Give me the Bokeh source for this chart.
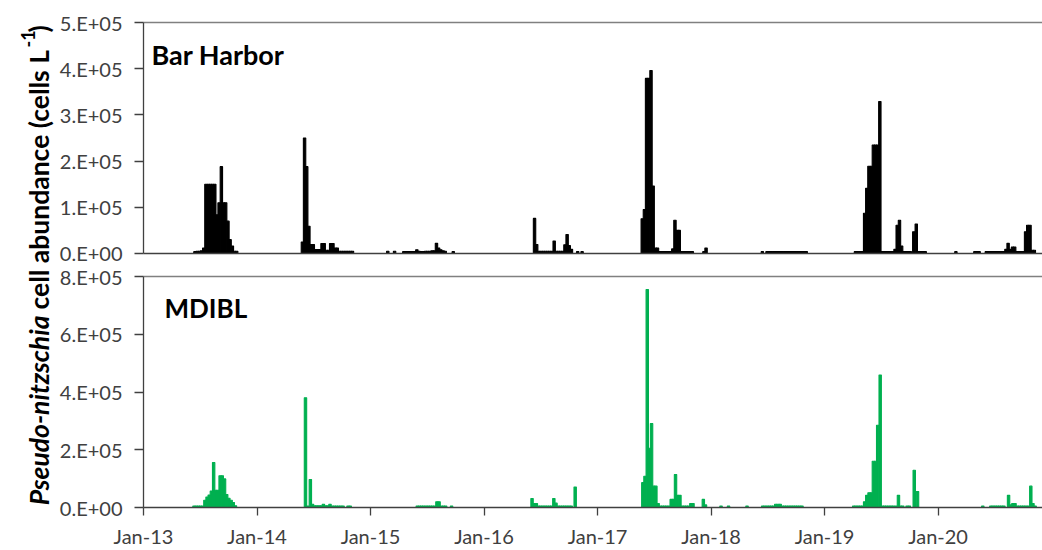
import math
from bokeh.plotting import figure
from bokeh.layouts import row, column
from bokeh.models import Range1d, FixedTicker, LinearAxis
from bokeh.core.properties import value
from bokeh.embed import file_html
from bokeh.resources import INLINE

# ---------------- data (sample time as decimal year, cells per litre) -------------
bh_time = [
    2013.453, 2013.473, 2013.492, 2013.511, 2013.531, 2013.550, 2013.570, 2013.589, 2013.608, 2013.628,
    2013.647, 2013.666, 2013.686, 2013.705, 2013.724, 2013.744, 2013.763, 2013.783, 2013.802, 2013.821,
    2014.400, 2014.419, 2014.438, 2014.457, 2014.477, 2014.496, 2014.515, 2014.534, 2014.553, 2014.573,
    2014.592, 2014.611, 2014.630, 2014.649, 2014.669, 2014.688, 2014.707, 2014.726, 2014.745, 2014.765,
    2014.784, 2014.803, 2014.822, 2014.841,
    2015.152, 2015.212, 2015.293, 2015.312, 2015.331, 2015.351, 2015.370, 2015.389, 2015.408, 2015.427,
    2015.447, 2015.466, 2015.485, 2015.504, 2015.523, 2015.543, 2015.562, 2015.581, 2015.600, 2015.619,
    2015.639, 2015.658, 2015.729,
    2016.445, 2016.464, 2016.483, 2016.503, 2016.522, 2016.541, 2016.560, 2016.579, 2016.599, 2016.618,
    2016.637, 2016.656, 2016.675, 2016.694, 2016.713, 2016.732, 2016.751, 2016.770, 2016.825, 2016.864,
    2017.394, 2017.413, 2017.432, 2017.451, 2017.471, 2017.490, 2017.509, 2017.528, 2017.547, 2017.567,
    2017.586, 2017.605, 2017.624, 2017.643, 2017.663, 2017.682, 2017.701, 2017.720, 2017.739, 2017.759,
    2017.778, 2017.797, 2017.816, 2017.835, 2017.937, 2017.956,
    2018.452, 2018.493, 2018.512, 2018.531, 2018.551, 2018.570, 2018.589, 2018.608, 2018.627, 2018.647,
    2018.666, 2018.685, 2018.704, 2018.723, 2018.743, 2018.762, 2018.781, 2018.800, 2018.819, 2018.839,
    2019.272, 2019.291, 2019.310, 2019.330, 2019.353, 2019.372, 2019.391, 2019.411, 2019.430, 2019.449,
    2019.468, 2019.487, 2019.506, 2019.526, 2019.545, 2019.564, 2019.583, 2019.602, 2019.621, 2019.640,
    2019.660, 2019.679, 2019.698, 2019.717, 2019.737, 2019.756, 2019.786, 2019.808, 2019.829, 2019.848,
    2019.868, 2019.887,
    2020.157, 2020.324, 2020.343, 2020.362, 2020.425, 2020.444, 2020.464, 2020.483, 2020.502, 2020.521,
    2020.540, 2020.560, 2020.579, 2020.598, 2020.617, 2020.637, 2020.656, 2020.675, 2020.694, 2020.713,
    2020.733, 2020.752, 2020.771, 2020.790, 2020.810, 2020.829, 2020.848,
]
bh_cells = [
    4000, 5000, 5000, 6000, 12000, 150000, 150000, 150000, 150000, 150000,
    84000, 110000, 188000, 110000, 110000, 70000, 30000, 16000, 5000, 5000,
    25000, 250000, 188000, 59000, 19500, 19500, 8700, 8700, 8700, 21700,
    21700, 7000, 7000, 21700, 21700, 12000, 12000, 5000, 5000, 5000,
    5000, 5000, 5000, 5000,
    5000, 5000, 4000, 4000, 4000, 4000, 4000, 4000, 8000, 5000,
    4000, 4000, 5000, 5000, 5000, 6000, 6000, 22000, 12000, 8000,
    6000, 5000, 4000,
    76000, 19500, 5000, 5000, 5000, 5000, 5000, 5000, 5000, 27000,
    5000, 5000, 5000, 5000, 19000, 41000, 17000, 9000, 4000, 4000,
    75000, 95000, 379000, 379000, 396000, 146000, 12000, 12000, 4000, 4000,
    4000, 4000, 4000, 4000, 10000, 72000, 50000, 50000, 4000, 4000,
    4000, 4000, 4000, 4000, 4000, 12000,
    4000, 4000, 4000, 4000, 4000, 4000, 4000, 4000, 4000, 4000,
    4000, 4000, 4000, 4000, 4000, 4000, 4000, 4000, 4000, 4000,
    4000, 4000, 4000, 4000, 87000, 141000, 189000, 189000, 235000, 235000,
    235000, 329000, 4000, 4000, 4000, 4000, 4000, 4000, 9000, 61000,
    72000, 16000, 4000, 4000, 4000, 4000, 47000, 64000, 4000, 4000,
    4000, 4000,
    4000, 4000, 4000, 4000, 4000, 4000, 4000, 4000, 4000, 4000,
    4000, 4000, 4000, 9000, 22000, 9000, 14000, 14000, 4000, 4000,
    4000, 4000, 47000, 61000, 61000, 7000, 7000,
]

md_time = [
    2013.445, 2013.464, 2013.483, 2013.502, 2013.522, 2013.541, 2013.560, 2013.579, 2013.598, 2013.618,
    2013.637, 2013.656, 2013.675, 2013.694, 2013.714, 2013.733, 2013.752, 2013.772, 2013.791, 2013.810,
    2014.427, 2014.446, 2014.470, 2014.489, 2014.508, 2014.527, 2014.547, 2014.566, 2014.585, 2014.604,
    2014.624, 2014.643, 2014.662, 2014.681, 2014.700, 2014.720, 2014.739, 2014.758, 2014.802, 2014.821,
    2015.412, 2015.431, 2015.450, 2015.469, 2015.489, 2015.508, 2015.527, 2015.546, 2015.566, 2015.585,
    2015.604, 2015.623, 2015.643, 2015.662, 2015.714,
    2016.423, 2016.442, 2016.461, 2016.481, 2016.500, 2016.519, 2016.538, 2016.557, 2016.577, 2016.596,
    2016.615, 2016.634, 2016.653, 2016.672, 2016.692, 2016.711, 2016.730, 2016.749, 2016.768, 2016.803,
    2017.399, 2017.418, 2017.438, 2017.457, 2017.476, 2017.495, 2017.514, 2017.534, 2017.553, 2017.572,
    2017.591, 2017.610, 2017.630, 2017.649, 2017.668, 2017.687, 2017.706, 2017.726, 2017.745, 2017.764,
    2017.783, 2017.802, 2017.822, 2017.841, 2017.932, 2017.951,
    2018.088, 2018.154, 2018.317, 2018.455, 2018.474, 2018.494, 2018.513, 2018.532, 2018.551, 2018.570,
    2018.590, 2018.609, 2018.628, 2018.647, 2018.666, 2018.686, 2018.705, 2018.724, 2018.743, 2018.762,
    2018.782, 2018.801,
    2019.257, 2019.276, 2019.296, 2019.315, 2019.334, 2019.353, 2019.372, 2019.392, 2019.411, 2019.430,
    2019.449, 2019.468, 2019.490, 2019.509, 2019.528, 2019.547, 2019.567, 2019.586, 2019.605, 2019.628,
    2019.651, 2019.670, 2019.689, 2019.727, 2019.747, 2019.790, 2019.819,
    2020.394, 2020.465, 2020.484, 2020.503, 2020.522, 2020.541, 2020.561, 2020.580, 2020.621, 2020.640,
    2020.659, 2020.678, 2020.698, 2020.717, 2020.736, 2020.755, 2020.774, 2020.794, 2020.817, 2020.836,
    2020.855,
]
md_cells = [
    5000, 5000, 5000, 5000, 5000, 25000, 36000, 43000, 57000, 156000,
    60000, 60000, 110000, 110000, 99000, 45000, 32000, 25000, 17000, 6000,
    380000, 5000, 97000, 11000, 6000, 6000, 6000, 6000, 11000, 6000,
    6000, 11000, 5000, 5000, 5000, 5000, 5000, 5000, 5000, 5000,
    5000, 5000, 5000, 5000, 5000, 5000, 5000, 5000, 5000, 20000,
    20000, 5000, 5000, 5000, 5000,
    31000, 14000, 14000, 5000, 5000, 5000, 5000, 5000, 5000, 5000,
    31000, 15000, 5000, 5000, 5000, 5000, 5000, 5000, 5000, 71000,
    86000, 108000, 755000, 205000, 291000, 74000, 74000, 14000, 5000, 5000,
    5000, 5000, 5000, 28000, 28000, 114000, 42000, 42000, 5000, 5000,
    5000, 5000, 14000, 14000, 28000, 9000,
    5000, 5000, 5000, 5000, 5000, 5000, 5000, 5000, 5000, 11000,
    11000, 11000, 5000, 5000, 5000, 5000, 5000, 5000, 5000, 5000,
    5000, 5000,
    5000, 5000, 5000, 5000, 5000, 20000, 42000, 51000, 51000, 160000,
    160000, 285000, 459000, 5000, 5000, 5000, 5000, 5000, 5000, 5000,
    42000, 5000, 5000, 5000, 5000, 129000, 55000,
    5000, 5000, 5000, 5000, 5000, 5000, 5000, 5000, 42000, 9000,
    14000, 14000, 5000, 5000, 5000, 5000, 5000, 5000, 74000, 14000,
    5000,
]

year_ticks = [2013, 2014, 2015, 2016, 2017, 2018, 2019, 2020]
year_labels = ["Jan-13", "Jan-14", "Jan-15", "Jan-16", "Jan-17", "Jan-18", "Jan-19", "Jan-20"]
bh_ticks = [0, 100000, 200000, 300000, 400000, 500000]
bh_labels = ["0.E+00", "1.E+05", "2.E+05", "3.E+05", "4.E+05", "5.E+05"]
md_ticks = [0, 200000, 400000, 600000, 800000]
md_labels = ["0.E+00", "2.E+05", "4.E+05", "6.E+05", "8.E+05"]
site_names = ["Bar Harbor", "MDIBL"]
site_colors = ["#000000", "#00B050"]

# ---------------- styling ------------------------------------------------------
FONT = "Lato"
AXIS_COL = "#404040"
TEXT_COL = "#404040"
BAR_W = 0.021
LAB_W = 56

x_range = Range1d(2013.0, 2020.92)


def make_panel(height, top_border, bottom_border, ymax, yticks, ylabels, xticks, xlabels):
    p = figure(width=1042 - LAB_W, height=height, x_range=x_range, y_range=Range1d(0, ymax),
               toolbar_location=None, output_backend="svg",
               min_border_left=142 - LAB_W, min_border_right=0,
               min_border_top=top_border, min_border_bottom=bottom_border)
    p.grid.visible = False
    p.outline_line_color = None
    p.background_fill_color = "white"
    p.border_fill_color = "white"

    ya = p.left[0]
    ya.ticker = FixedTicker(ticks=yticks)
    ya.major_label_overrides = {t: l for t, l in zip(yticks, ylabels)}
    ya.axis_line_color = AXIS_COL
    ya.axis_line_width = 1.3
    ya.major_tick_line_color = AXIS_COL
    ya.major_tick_line_width = 1.3
    ya.major_tick_out = 9
    ya.major_tick_in = 0
    ya.minor_tick_line_color = None
    ya.major_label_standoff = 12
    ya.major_label_text_font = FONT
    ya.major_label_text_font_size = "20px"
    ya.major_label_text_color = TEXT_COL

    xa = p.below[0]
    xa.ticker = FixedTicker(ticks=xticks)
    xa.axis_line_color = AXIS_COL
    xa.axis_line_width = 1.3
    xa.minor_tick_line_color = None
    if xticks:
        xa.major_label_overrides = {t: l for t, l in zip(xticks, xlabels)}
        xa.major_tick_line_color = AXIS_COL
        xa.major_tick_line_width = 1.3
        xa.major_tick_out = 8
        xa.major_tick_in = 0
        xa.major_label_standoff = 8
        xa.major_label_text_font = FONT
        xa.major_label_text_font_size = "20px"
        xa.major_label_text_color = TEXT_COL
    else:
        xa.major_tick_line_color = None
        xa.major_label_text_font_size = "0px"
        xa.major_label_standoff = 0

    top_ax = LinearAxis(ticker=FixedTicker(ticks=[]), axis_line_color="#808080", axis_line_width=1.6,
                        major_tick_line_color=None, minor_tick_line_color=None,
                        major_label_text_font_size="0px", major_label_standoff=0)
    p.add_layout(top_ax, "above")
    return p


# top panel (Bar Harbor)
p1 = make_panel(264, 22, 11, 500000, bh_ticks, bh_labels, [], [])
p1.vbar(x=bh_time, top=bh_cells, width=BAR_W, fill_color=site_colors[0],
        line_color=site_colors[0], line_width=1.1)
p1.text(x=[2013.07], y=[431500], text=[site_names[0]], text_font=value(FONT),
        text_font_size="27px", text_font_style="bold", text_color="#000000",
        text_align="left", text_baseline="alphabetic")

# bottom panel (MDIBL)
p2 = make_panel(286, 12, 40, 800000, md_ticks, md_labels, year_ticks, year_labels)
p2.vbar(x=md_time, top=md_cells, width=BAR_W, fill_color=site_colors[1],
        line_color=site_colors[1], line_width=1.1)
p2.text(x=[2013.185], y=[690000], text=[site_names[1]], text_font=value(FONT),
        text_font_size="26px", text_font_style="bold", text_color="#000000",
        text_align="left", text_baseline="alphabetic")

# y-axis title in its own strip (rotated text pieces, reading bottom to top)
p0 = figure(width=LAB_W, height=550, x_range=Range1d(0, LAB_W), y_range=Range1d(0, 550),
            toolbar_location=None, output_backend="svg", min_border=0)
p0.axis.visible = False
p0.grid.visible = False
p0.outline_line_color = None
rot = math.pi / 2
p0.text(x=[38], y=[235], text=["Pseudo-nitzschia"], angle=rot, text_font=value(FONT),
        text_font_size="26.5px", text_font_style="bold italic", text_color="#000000",
        text_align="right", text_baseline="alphabetic")
p0.text(x=[38], y=[241], text=["cell abundance (cells L"], angle=rot, text_font=value(FONT),
        text_font_size="26.5px", text_font_style="bold", text_color="#000000",
        text_align="left", text_baseline="alphabetic")
p0.text(x=[27], y=[503], text=["-1"], angle=rot, text_font=value(FONT),
        text_font_size="18px", text_font_style="bold", text_color="#000000",
        text_align="left", text_baseline="alphabetic")
p0.text(x=[38], y=[518], text=[")"], angle=rot, text_font=value(FONT),
        text_font_size="26.5px", text_font_style="bold", text_color="#000000",
        text_align="left", text_baseline="alphabetic")

layout = row(p0, column(p1, p2, spacing=0), spacing=0)
open("out.html", "w").write(file_html(layout, INLINE))
